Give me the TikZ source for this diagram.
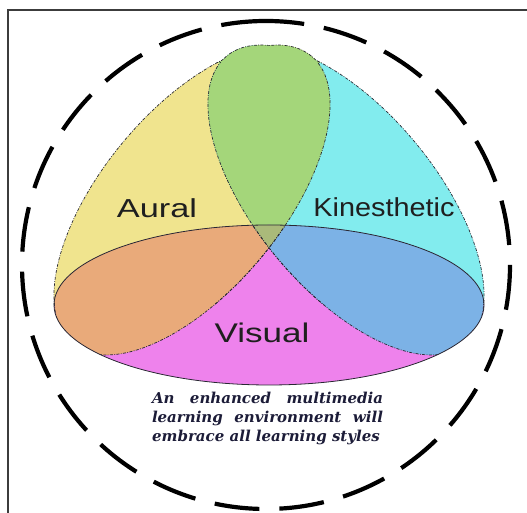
\documentclass[tikz,border=0pt]{standalone}
\usepackage{fontspec}
\setmainfont{Liberation Sans}
\newfontfamily\notefont{DejaVu Serif}
\usepackage{graphicx}
\definecolor{ycol}{RGB}{240,228,142}
\definecolor{ccol}{RGB}{130,236,238}
\definecolor{gcol}{RGB}{164,214,122}
\definecolor{pcol}{RGB}{238,130,236}
\definecolor{ocol}{RGB}{233,170,122}
\definecolor{bcol}{RGB}{124,178,230}
\definecolor{olcol}{RGB}{170,186,122}
\definecolor{framec}{RGB}{60,60,60}
\definecolor{edgec}{RGB}{40,40,50}
\definecolor{notec}{RGB}{28,28,56}
\tikzset{
  Ast/.style={shift={(192,313)},rotate=50.3},
  Kst/.style={shift={(346,313)},rotate=-50.3},
  Vst/.style={shift={(269,208)}},
  akedge/.style={draw=edgec,line width=0.7pt,dash pattern=on 3pt off 1.4pt on 0.8pt off 1.4pt},
  vedge/.style={draw=edgec,line width=0.8pt},
  lab/.style={inner sep=0pt,anchor=base,font=\fontsize{26}{30}\selectfont,text=black!88},
  note/.style={inner sep=0pt,anchor=base,text=notec,font=\notefont\bfseries\itshape\fontsize{15}{18}\selectfont}
}
\newcommand\Ael{(0,0) ellipse [x radius=187, y radius=90]}
\newcommand\Vel{(0,0) ellipse [x radius=215, y radius=80]}
\newcommand\AKfills{%
  \fill[ycol,Ast] \Ael;
  \fill[ccol,Kst] \Ael;
  \begin{scope}
    \clip[Ast] \Ael;
    \fill[gcol,Kst] \Ael;
  \end{scope}}
\newcommand\AKedges{%
  \path[akedge,Ast] \Ael;
  \path[akedge,Kst] \Ael;}
\begin{document}
\begin{tikzpicture}[x=1pt,y=1pt]
\useasboundingbox (0,0) rectangle (527,513);
% frame
\draw[framec,line width=1.4pt] (527,503) -- (8,503) -- (8,0);
% dashed circle
\draw[line width=4.2pt,dash pattern=on 45pt off 20pt] (266,248+244) arc[start angle=90,end angle=450,radius=244];
% upper parts of Aural / Kinesthetic
\begin{scope}
  \clip (0,208) rectangle (527,513);
  \AKfills
\end{scope}
% top cap of the Aural/Kinesthetic overlap
\begin{scope}
  \clip (0,450) rectangle (527,513);
  \fill[gcol,Ast] \Ael;
  \fill[gcol,Kst] \Ael;
\end{scope}
% visual
\fill[pcol,Vst] \Vel;
\begin{scope}
  \clip[Vst] \Vel;
  \fill[ocol,Ast] \Ael;
  \fill[bcol,Kst] \Ael;
  \clip[Ast] \Ael;
  \fill[olcol,Kst] \Ael;
\end{scope}
% edges
\begin{scope}
  \clip (0,208) rectangle (527,450);
  \AKedges
\end{scope}
\begin{scope}
  \clip (0,450) rectangle (527,513);
  \begin{scope}[even odd rule]
    \clip[Kst] (-3000,-3000) rectangle (3000,3000) \Ael;
    \path[akedge,Ast] \Ael;
  \end{scope}
  \begin{scope}[even odd rule]
    \clip[Ast] (-3000,-3000) rectangle (3000,3000) \Ael;
    \path[akedge,Kst] \Ael;
  \end{scope}
\end{scope}
\begin{scope}
  \clip[Vst] \Vel;
  \AKedges
\end{scope}
\path[vedge,Vst] \Vel;
% labels
\node[lab] (aural) at (157,295) {\scalebox{1.32}[1]{Aural}};
\node[lab] (kin) at (384,296) {\scalebox{1.11}[1]{Kinesthetic}};
\node[lab,font=\fontsize{27}{30}\selectfont] (vis) at (262,170) {\scalebox{1.3}[1]{Visual}};
% note
\node[note] (note1) at (267.5,109) {\makebox[231pt][s]{An enhanced multimedia}};
\node[note] (note2) at (267.5,90) {\makebox[231pt][s]{learning environment will}};
\node[note] (note3) at (266,71) {embrace all learning styles};
\end{tikzpicture}
\end{document}
